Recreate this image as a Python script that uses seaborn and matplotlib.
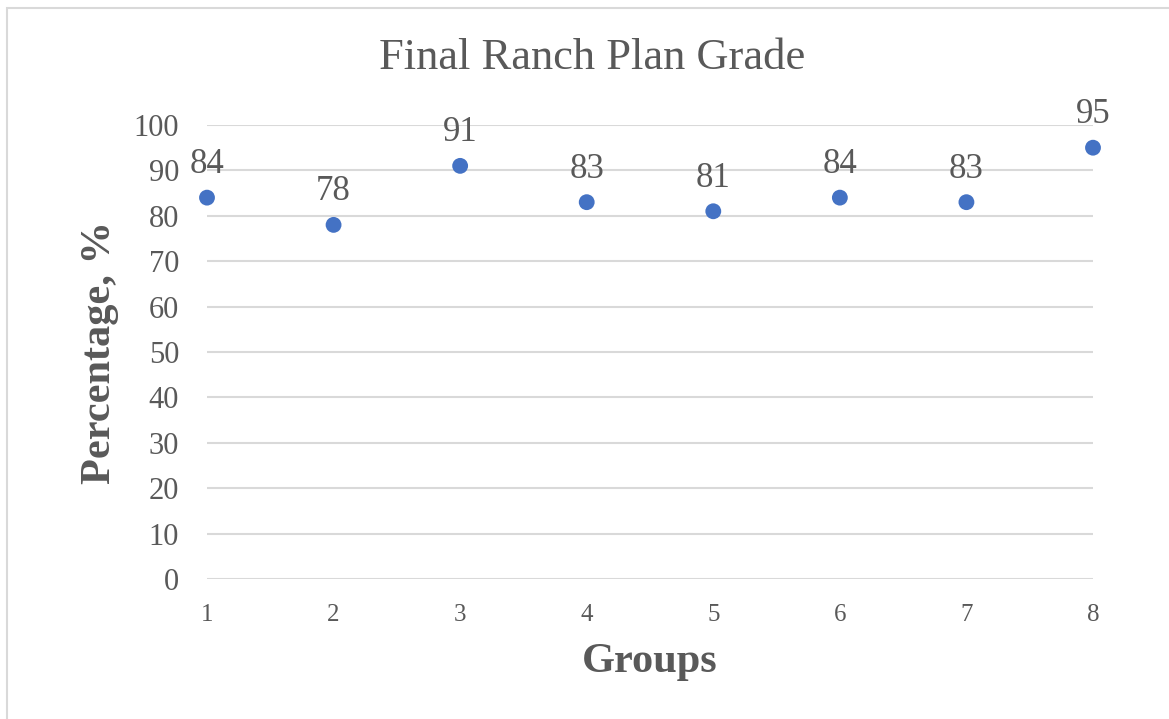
import matplotlib
matplotlib.use("Agg")
import matplotlib.pyplot as plt
import seaborn as sns
import pandas as pd
from matplotlib.patches import Rectangle

groups = [1, 2, 3, 4, 5, 6, 7, 8]
grades = [84, 78, 91, 83, 81, 84, 83, 95]
y_ticks = [0, 10, 20, 30, 40, 50, 60, 70, 80, 90, 100]

TEXT = "#595959"
DOT = "#4472C4"
GRID = "#D9D9D9"

sns.set_theme(style="white")
plt.rcParams["font.family"] = ["Liberation Serif", "DejaVu Serif"]

df = pd.DataFrame({"Groups": groups, "Grade": grades})

W, H = 1169, 719
fig = plt.figure(figsize=(W / 100, H / 100), dpi=100)
ax = fig.add_axes([207 / W, 1 - 579 / H, (1093 - 207) / W, (579 - 125) / H])

# light frame around the chart area
fig.patches.append(Rectangle((7 / W, -0.05), 1.2, 1.05 - 8 / H, transform=fig.transFigure,
                             fill=False, edgecolor="#D9D9D9", linewidth=1.5))

sns.scatterplot(data=df, x="Groups", y="Grade", ax=ax, color=DOT, s=130,
                edgecolor="none", zorder=3, clip_on=False)

for g, v in zip(groups, grades):
    ax.annotate(f"{v}", (g, v), xytext=(0, 12), textcoords="offset points",
                ha="center", va="bottom", fontsize=25, color=TEXT)

ax.set_xlim(1, 8)
ax.set_ylim(0, 100)
ax.set_yticks(y_ticks)
ax.set_xticks(groups)
ax.yaxis.grid(True, color=GRID, linewidth=1.5)
ax.xaxis.grid(False)
for s in ax.spines.values():
    s.set_visible(False)
ax.tick_params(axis="y", labelsize=22, colors=TEXT, length=0, pad=20)
ax.tick_params(axis="x", labelsize=18, colors=TEXT, length=0, pad=18)

ax.set_xlabel("")
ax.set_ylabel("")
fig.text(650 / W, 1 - 662 / H, "Groups", ha="center", va="center",
         fontsize=30.5, fontweight="bold", color=TEXT)
fig.text(100 / W, 1 - 353 / H, "Percentage, %", ha="center", va="center", rotation=90,
         fontsize=30.5, fontweight="bold", color=TEXT)
fig.text(592 / W, 1 - 58 / H, "Final Ranch Plan Grade", ha="center", va="center",
         fontsize=32, color=TEXT)

fig.savefig("out.png", dpi=100, facecolor="white")
